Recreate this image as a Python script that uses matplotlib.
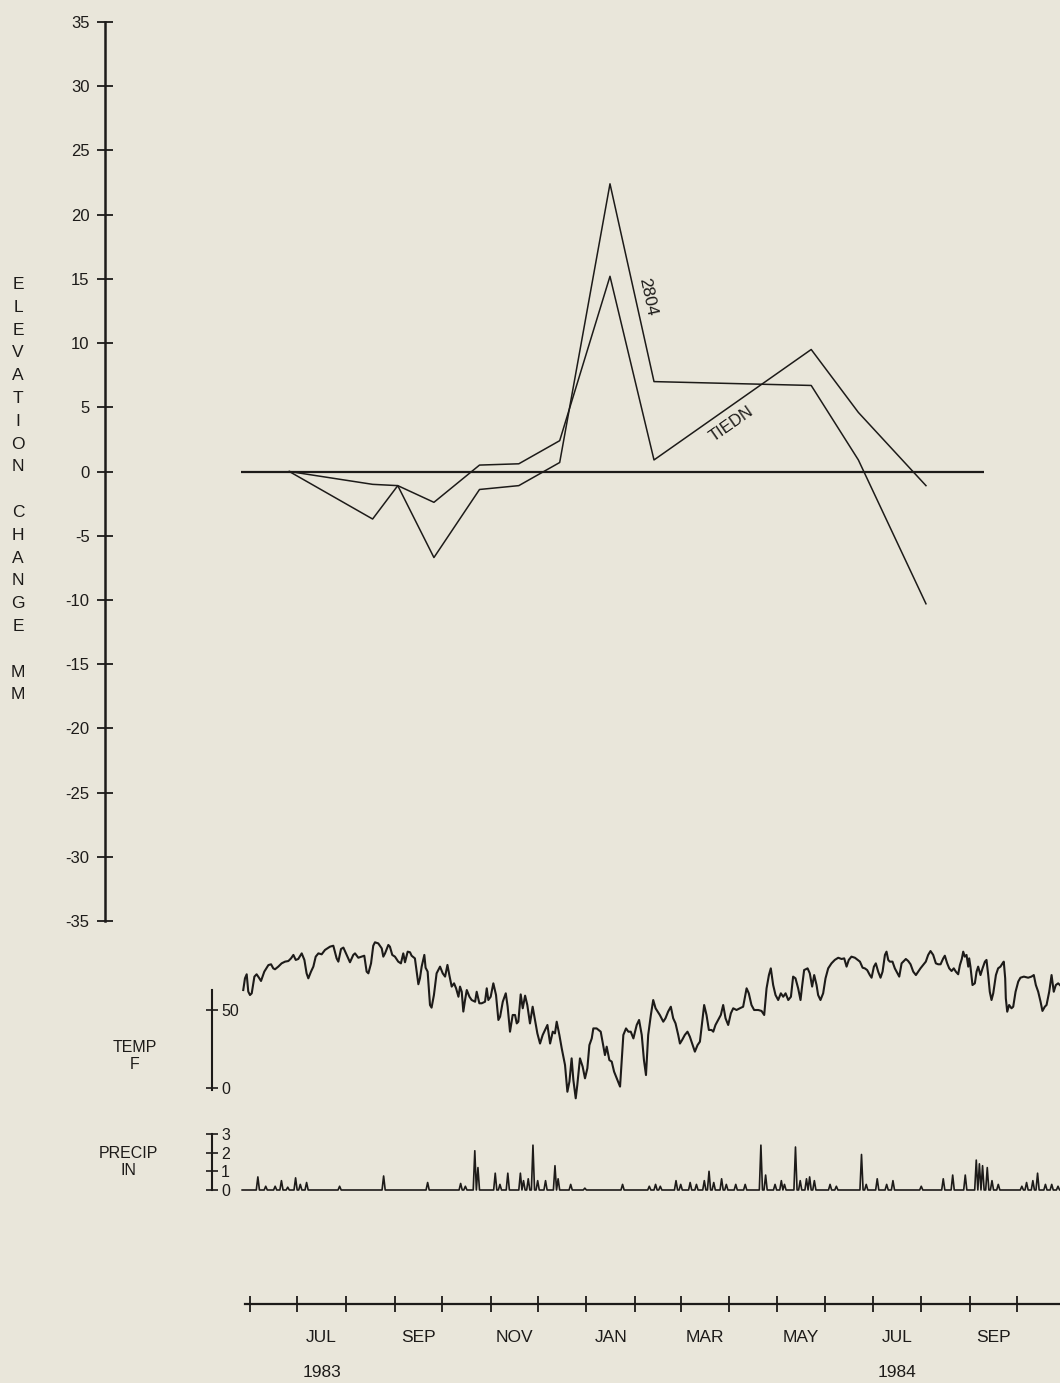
import numpy as np
import pandas as pd
import matplotlib
matplotlib.use('Agg')
import matplotlib.pyplot as plt

# survey dates (days after 1 Jun 1983) and elevation change, mm
survey_day = [25, 78, 94, 117, 146, 171, 197, 229, 257, 357, 387, 430]
tiedn_mm = [0.0, -1.0, -1.1, -2.4, 0.5, 0.6, 2.4, 15.2, 0.9, 9.5, 4.6, -1.1]
bm2804_mm = [0.0, -3.7, -1.1, -6.7, -1.4, -1.1, 0.7, 22.4, 7.0, 6.7, 0.9, -10.3]
zero_line_days = [-6, 467]

# daily temperature
temp_day = [
    -4.3, -3.2, -2.1, -1.1, 0.0, 1.1, 2.8, 4.2, 5.7, 7.0, 9.1, 11.7, 13.4, 14.8, 15.9, 18.0, 20.1, 22.3,
    24.4, 26.1, 27.6, 29.1, 30.7, 32.9, 34.6, 36.0, 37.1, 38.8, 40.3, 41.8, 43.5, 45.6, 47.7, 50.9, 53.0,
    55.1, 56.2, 57.9, 59.4, 61.5, 63.6, 65.7, 66.8, 68.9, 71.0, 72.7, 74.2, 75.3, 77.0, 78.4, 79.5, 81.6,
    83.8, 84.8, 85.9, 88.0, 89.0, 90.5, 92.2, 94.3, 96.0, 97.5, 98.6, 100.3, 101.8, 102.8, 104.9, 107.1,
    108.1, 109.2, 110.9, 111.7, 113.0, 114.5, 115.5, 117.0, 118.7,
    120.9, 122.6, 124.1, 125.6, 126.8, 128.3, 129.8, 131.1, 132.6, 133.6, 134.7, 135.7, 136.8, 137.9,
    139.6, 141.0, 143.2, 144.2, 145.9, 147.4, 149.5, 150.6, 151.6, 153.1, 154.8, 156.5, 158.0, 159.1,
    160.8, 162.7, 163.9, 165.4, 167.1, 168.6, 169.7, 170.7, 172.2, 173.5, 175.0, 176.4, 178.1, 179.8,
    181.3, 182.8, 184.5, 186.2, 187.7, 189.2, 190.9, 192.6, 194.0, 195.1, 196.8, 198.3, 200.4, 201.9,
    203.2, 204.6, 205.7, 207.2, 208.2, 209.9, 211.6, 213.1, 214.6, 215.9, 217.4, 218.4, 220.5, 223.1,
    224.8, 225.8, 226.9, 228.6, 230.1, 231.6, 233.3, 235.4, 236.4, 237.5, 239.2, 240.7, 242.2, 243.9,
    246.0, 247.5, 249.2, 250.6, 251.9,
    253.3, 255.0, 256.5, 258.0, 260.7, 262.9, 264.3, 266.0, 267.7, 269.2, 270.7, 272.4, 273.5, 274.9,
    276.6, 278.3, 279.8, 281.3, 283.0, 284.7, 286.2, 287.2, 288.9, 290.4, 291.9, 293.6, 294.7, 296.1,
    297.8, 299.5, 301.0, 302.5, 304.2, 305.9, 307.4, 309.5, 311.6, 313.7, 315.9, 317.3, 319.0, 320.7,
    323.3, 325.4, 327.1, 328.6, 330.1, 331.3, 332.8, 334.3, 336.0, 337.7, 339.2, 340.7, 342.4, 344.1,
    345.5, 347.0, 348.7, 350.2, 351.3, 352.5, 354.7, 356.1, 357.6, 358.9, 360.4, 361.4, 362.9, 364.6,
    366.1, 367.8, 369.9, 372.0, 374.2, 376.3, 378.0, 379.5, 380.9, 382.6, 384.8,
    385.8, 388.0, 389.7, 391.1, 392.6, 394.3, 395.4, 396.9, 398.1, 399.6, 401.1, 402.4, 403.9, 404.9,
    406.0, 407.0, 408.7, 410.2, 411.3, 413.0, 414.5, 415.9, 417.2, 418.7, 420.2, 421.9, 423.6, 425.1,
    426.5, 428.2, 429.9, 431.4, 432.9, 434.6, 436.3, 437.8, 439.3, 441.0, 442.0, 443.5, 444.8, 446.3,
    447.7, 449.0, 450.5, 451.6, 452.8, 453.7, 454.7, 455.8, 456.9, 457.5, 458.3, 459.6, 461.1, 462.2,
    463.2, 464.7, 466.0, 467.5, 468.5, 469.6, 470.6, 471.7, 472.8, 474.5, 475.9, 477.4, 478.7, 479.5,
    480.4, 480.8, 481.7, 482.9, 484.4, 485.5, 487.0, 488.7, 490.1, 492.3, 495.0, 497.1, 498.6, 499.9,
    501.4, 502.9, 504.1, 505.6, 506.7, 508.4, 509.9, 511.3, 512.6, 514.1, 515.2,
]
temp_f = [
    62.8, 70.3, 72.9, 61.8, 59.6, 60.7, 71.4, 72.9, 70.7, 68.6, 74.6, 78.8, 79.3, 76.7, 76.1, 77.8, 79.9, 81.0,
    81.4, 83.1, 85.3, 82.1, 82.7, 86.3, 82.1, 73.5, 70.3, 74.6, 77.8, 84.2, 86.3, 85.7, 88.5, 90.6, 91.2,
    83.1, 81.0, 89.1, 90.0, 85.3, 80.6, 85.3, 86.3, 83.5, 84.2, 84.8, 74.6, 73.5, 79.9, 91.2, 93.4, 92.7,
    89.5, 84.2, 86.3, 91.7, 90.6, 85.3, 84.2, 81.0, 79.9, 86.3, 80.6, 87.4, 87.0, 84.8, 83.1, 66.5,
    70.3, 77.8, 85.3, 77.1, 74.6, 53.2, 51.5, 59.6, 73.5,
    77.8, 73.5, 71.4, 78.9, 72.4, 65.0, 67.1, 63.9, 58.5, 65.0, 61.7, 49.0, 56.4, 62.8,
    58.5, 56.4, 55.3, 61.7, 54.3, 54.3, 55.3, 63.9, 56.4, 58.5, 67.1, 59.6, 43.6, 45.7,
    55.3, 60.7, 52.1, 36.1, 46.8, 46.8, 41.4, 42.5, 60.0, 51.1, 59.2, 53.2, 41.4, 52.1,
    43.6, 35.0, 28.5, 34.0, 37.2, 40.4, 28.5, 36.1, 35.0, 42.5, 34.0, 25.4, 14.7, -2.4,
    4.1, 19.0, 5.1, -6.6, 1.9, 19.0, 13.7, 6.2, 12.6, 27.5, 31.8, 38.2, 38.2, 36.1,
    26.5, 21.1, 26.5, 17.9, 16.9, 10.5, 6.2, 0.9, 16.9, 34.0, 38.2, 36.1, 36.1, 31.8,
    40.4, 43.6, 34.0, 17.9, 8.3,
    34.0, 46.8, 56.4, 51.1, 46.8, 42.5, 44.7, 49.0, 52.1, 44.7, 41.4, 34.0, 28.5, 30.8,
    34.0, 36.1, 32.9, 28.5, 23.3, 27.5, 29.7, 38.2, 53.2, 46.8, 37.2, 37.2, 36.1, 40.4,
    43.6, 46.8, 53.2, 44.7, 40.4, 47.9, 51.1, 50.0, 51.1, 52.1, 63.9, 60.7, 53.2, 50.0,
    50.0, 49.4, 46.8, 63.9, 72.4, 76.7, 66.0, 59.6, 56.4, 60.7, 58.5, 60.7, 56.4, 58.5,
    71.4, 70.3, 63.9, 56.4, 66.0, 75.6, 76.7, 73.5, 65.0, 72.4, 66.0, 59.6, 56.4, 60.7,
    70.3, 76.7, 79.9, 82.1, 83.5, 82.7, 83.1, 77.8, 82.1, 84.2, 83.5,
    82.7, 81.0, 77.1, 76.7, 75.6, 72.4, 70.7, 77.8, 79.9, 74.6, 70.7, 74.6, 85.3, 87.4,
    82.1, 81.0, 81.0, 76.7, 74.6, 71.4, 79.9, 81.4, 82.7, 81.4, 79.3, 74.6, 72.4, 74.6,
    76.7, 78.8, 81.0, 85.3, 87.8, 85.3, 79.9, 79.3, 79.3, 83.1, 84.8, 79.9, 76.7, 75.0,
    76.7, 74.6, 72.9, 78.8, 82.7, 87.4, 84.2, 85.3, 77.8, 83.1, 77.8, 66.0, 67.1, 74.6,
    77.8, 72.4, 76.7, 81.0, 82.1, 72.4, 61.7, 56.4, 60.7, 72.4, 76.7, 77.8, 79.9, 81.0,
    70.3, 57.5, 48.9, 53.2, 51.1, 52.1, 61.7, 68.2, 70.7, 71.4, 70.7, 71.4, 72.4, 66.0,
    61.7, 55.3, 49.4, 52.1, 53.2, 61.7, 72.4, 61.7, 66.0, 67.1, 66.0,
]

# rainy days (days after 1 Jun 1983) and amount, inches
rain_day = [5, 10, 16, 20, 24, 29, 32, 36, 57, 85, 113, 134, 137, 143, 145, 156, 159, 164, 172, 174,
            177, 180, 183, 188, 194, 196, 204, 213, 237, 254, 258, 261, 271, 274, 280, 284, 289, 292,
            295, 300, 303, 309, 315, 325, 328, 334, 338, 340, 347, 350, 354, 356, 359, 369, 373, 389,
            392, 399, 405, 409, 427, 441, 447, 455, 462, 464, 466, 469, 472, 476, 491, 494, 498, 501,
            506, 510, 514]
rain_in = [0.7, 0.2, 0.2, 0.5, 0.15, 0.65, 0.3, 0.4, 0.2, 0.75, 0.4, 0.35, 0.2, 2.1, 1.2, 0.9, 0.3,
           0.9, 0.9, 0.5, 0.6, 2.4, 0.5, 0.5, 1.3, 0.6, 0.3, 0.1, 0.3, 0.2, 0.3, 0.2, 0.5, 0.3, 0.4,
           0.3, 0.5, 1.0, 0.4, 0.6, 0.3, 0.3, 0.3, 2.4, 0.8, 0.3, 0.5, 0.3, 2.3, 0.5, 0.6, 0.7, 0.5,
           0.3, 0.2, 1.9, 0.3, 0.6, 0.3, 0.5, 0.2, 0.6, 0.8, 0.8, 1.6, 1.4, 1.3, 1.2, 0.5, 0.3, 0.2,
           0.4, 0.5, 0.9, 0.3, 0.3, 0.2]

month_names = ['JUL', 'SEP', 'NOV', 'JAN', 'MAR', 'MAY', 'JUL', 'SEP']
month_label_starts = ['1983-07-01', '1983-09-01', '1983-11-01', '1984-01-01',
                      '1984-03-01', '1984-05-01', '1984-07-01', '1984-09-01']
year_labels = ['1983', '1984']
year_label_months = ['1983-07-01', '1984-07-01']

START = pd.Timestamp('1983-06-01')

# page geometry (pixels), used only to place the panels
W, H = 1060, 1383
X0, PPD = 250, 1.572      # pixel of 1 Jun 1983, pixels per day
P0, PPI = 1190, 18.7      # precip zero line (pixel), pixels per inch
BG = '#e9e6da'
INK = '#1d1b19'

plt.rcParams['font.family'] = ['Liberation Sans', 'DejaVu Sans']
plt.rcParams['axes.unicode_minus'] = False


def day_at(px):
    return (px - X0) / PPD


def panel(left, top, right, bottom):
    ax = fig.add_axes([left / W, 1 - bottom / H, (right - left) / W, (bottom - top) / H])
    ax.set_xlim(day_at(left), day_at(right))
    ax.patch.set_alpha(0)
    for s in ax.spines.values():
        s.set_visible(False)
    ax.set_xticks([])
    ax.set_yticks([])
    return ax


def mid_month(month_start):
    a = pd.Timestamp(month_start)
    b = a + pd.offsets.MonthBegin(1)
    return ((a - START).days + (b - START).days) / 2


fig = plt.figure(figsize=(W / 100, H / 100), dpi=100, facecolor=BG)

# elevation change panel
ax = panel(105, 22, 1060, 921)
ax.set_ylim(-35, 35)
ax.spines['left'].set_visible(True)
ax.spines['left'].set_linewidth(1.8)
ax.spines['left'].set_color(INK)
ax.set_yticks(range(-35, 36, 5))
ax.tick_params(axis='y', direction='inout', length=12, width=1.3, pad=5,
               labelsize=12, colors=INK)
ax.hlines(0, zero_line_days[0], zero_line_days[1], color=INK, lw=1.6)
ax.plot(survey_day, tiedn_mm, color=INK, lw=1.1)
ax.plot(survey_day, bm2804_mm, color=INK, lw=1.1)
ax.text(253, 13.6, '2804', rotation=-78, ha='center', va='center',
        rotation_mode='anchor', fontsize=12.5, color=INK)
ax.text(306, 3.7, 'TIEDN', rotation=35, ha='center', va='center',
        rotation_mode='anchor', fontsize=12, color=INK)

fig.text(18 / W, 1 - 277 / H,
         'E\nL\nE\nV\nA\nT\nI\nO\nN\n\nC\nH\nA\nN\nG\nE\n\nM\nM',
         ha='center', va='top', ma='center', fontsize=12.5, linespacing=1.65, color=INK)

# temperature panel
axt = panel(212, 930, 1060, 1100)
axt.set_ylim(-(1100 - 1088) / 1.56, (1088 - 930) / 1.56)
axt.spines['right'].set_visible(True)
axt.spines['right'].set_position(('axes', 0.0))
axt.spines['right'].set_bounds(-1, 63)
axt.spines['right'].set_linewidth(1.5)
axt.spines['right'].set_color(INK)
axt.yaxis.set_ticks_position('right')
axt.set_yticks([0, 50])
axt.tick_params(axis='y', direction='inout', length=9, width=1.2, pad=2,
                labelsize=11.5, colors=INK)
axt.plot(temp_day, temp_f, color=INK, lw=1.5)
fig.text(135 / W, 1 - 1056 / H, 'TEMP\nF', ha='center', va='center', ma='center',
         fontsize=11.5, linespacing=1.1, color=INK)

# precipitation panel
days = np.arange(-5, 517)
precip = pd.Series(0.0, index=days)
precip.loc[rain_day] = rain_in
axp = panel(212, 1112, 1060, 1200)
axp.set_ylim(-(1200 - P0) / PPI, (P0 - 1112) / PPI)
axp.spines['right'].set_visible(True)
axp.spines['right'].set_position(('axes', 0.0))
axp.spines['right'].set_bounds(0, 3)
axp.spines['right'].set_linewidth(1.5)
axp.spines['right'].set_color(INK)
axp.yaxis.set_ticks_position('right')
axp.set_yticks([0, 1, 2, 3])
axp.tick_params(axis='y', direction='inout', length=9, width=1.2, pad=2,
                labelsize=11.5, colors=INK)
axp.plot(precip.index, precip.values, color=INK, lw=1.2)
fig.text(128 / W, 1 - (P0 - 28) / H, 'PRECIP\nIN', ha='center', va='center', ma='center',
         fontsize=11.5, linespacing=1.1, color=INK)

# date axis
axd = panel(245, 1280, 1060, 1304)
axd.set_ylim(0, 1)
axd.spines['bottom'].set_visible(True)
axd.spines['bottom'].set_linewidth(1.6)
axd.spines['bottom'].set_color(INK)
month_starts = pd.date_range('1983-06-01', '1984-10-01', freq='MS')
axd.set_xticks((month_starts - START).days)
axd.tick_params(axis='x', direction='inout', length=12, width=1.3, labelbottom=False, colors=INK)
narrow = ['Liberation Sans Narrow', 'Liberation Sans']
for name, m0 in zip(month_names, month_label_starts):
    axd.annotate(name, xy=(mid_month(m0), 0), xycoords=('data', 'axes fraction'),
                 xytext=(0, -24), textcoords='offset points', ha='center', va='center',
                 fontsize=12.5, color=INK, family=narrow)
for name, m0 in zip(year_labels, year_label_months):
    axd.annotate(name, xy=(mid_month(m0), 0), xycoords=('data', 'axes fraction'),
                 xytext=(0, -49), textcoords='offset points', ha='center', va='center',
                 fontsize=12.5, color=INK, family=narrow)

fig.savefig('out.png', dpi=100, facecolor=BG)
plt.close(fig)
